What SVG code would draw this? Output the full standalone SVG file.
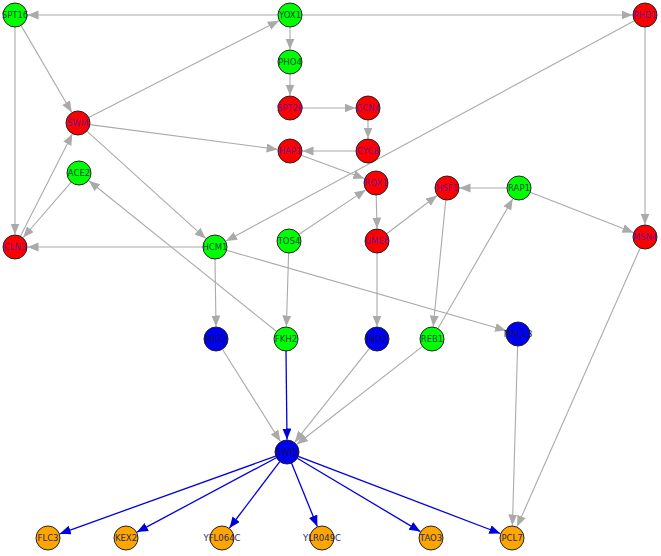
<svg xmlns="http://www.w3.org/2000/svg" width="661" height="556" viewBox="0 0 661 556">
<defs>
<marker id="ag" markerUnits="userSpaceOnUse" markerWidth="12" markerHeight="10" refX="11" refY="4.5" orient="auto"><path d="M0,0 L11,4.5 L0,9 z" fill="#aaaaaa"/></marker>
<marker id="ab" markerUnits="userSpaceOnUse" markerWidth="12" markerHeight="10" refX="11" refY="4.5" orient="auto"><path d="M0,0 L11,4.5 L0,9 z" fill="#0000dd"/></marker>
<style>
.e{stroke:#aaaaaa;stroke-width:1.1;fill:none;marker-end:url(#ag)}
.b{stroke:#0000dd;stroke-width:1.3;fill:none;marker-end:url(#ab)}
circle{stroke:#222;stroke-width:1}
.g circle{fill:#00ff00}.r circle{fill:#ff0000}.u circle{fill:#0000f0}.o circle{fill:#ffa500}
text{font-family:"DejaVu Sans",Verdana,sans-serif;font-size:8.5px;text-anchor:middle}
.g text{fill:#0b4d3a}.r text{fill:#70108a}.u text{fill:#101060}.o text{fill:#2a2a50}
</style>
</defs>
<rect width="661" height="556" fill="#ffffff"/>
<g id="edges">
<line class="e" x1="278" y1="15" x2="27.5" y2="15"/>
<line class="e" x1="302" y1="15" x2="632.5" y2="15"/>
<line class="e" x1="290" y1="27" x2="290" y2="49.5"/>
<line class="e" x1="290" y1="74" x2="290" y2="95.5"/>
<line class="e" x1="302" y1="108" x2="355.5" y2="108"/>
<line class="e" x1="368" y1="120" x2="368" y2="138.5"/>
<line class="e" x1="356" y1="151" x2="302.5" y2="151"/>
<line class="e" x1="301.2" y1="155.2" x2="364.3" y2="178.6"/>
<line class="e" x1="89.9" y1="124.6" x2="277.6" y2="149.4"/>
<line class="e" x1="88.7" y1="117.6" x2="278.9" y2="20.7"/>
<line class="e" x1="21" y1="25.4" x2="71.7" y2="112.2"/>
<line class="e" x1="15" y1="27" x2="15" y2="234.5"/>
<line class="e" x1="20.4" y1="236.3" x2="72.3" y2="134.1"/>
<line class="e" x1="71.2" y1="182.1" x2="23.2" y2="237.5"/>
<line class="e" x1="203" y1="247" x2="27.5" y2="247"/>
<line class="e" x1="86.9" y1="131.1" x2="205.7" y2="238.6"/>
<line class="e" x1="276.6" y1="331.5" x2="88.8" y2="180.8"/>
<line class="e" x1="634.4" y1="20.7" x2="226" y2="241.1"/>
<line class="e" x1="645" y1="27" x2="645" y2="224.5"/>
<line class="e" x1="299" y1="234.3" x2="365.6" y2="189.9"/>
<line class="e" x1="376.2" y1="195" x2="377" y2="228.5"/>
<line class="e" x1="386.6" y1="233.8" x2="437" y2="195.5"/>
<line class="e" x1="507" y1="188" x2="459.5" y2="188"/>
<line class="e" x1="530.2" y1="192.3" x2="633.4" y2="232.5"/>
<line class="e" x1="438" y1="328.6" x2="512.8" y2="198.8"/>
<line class="e" x1="445.8" y1="199.9" x2="433.2" y2="326.6"/>
<line class="e" x1="215" y1="259" x2="216" y2="326.5"/>
<line class="e" x1="226.5" y1="250.3" x2="506" y2="330.5"/>
<line class="e" x1="288.6" y1="253" x2="286.4" y2="326.5"/>
<line class="e" x1="377" y1="253" x2="377" y2="326.5"/>
<line class="e" x1="222.4" y1="349.2" x2="280.4" y2="441.4"/>
<line class="b" x1="286" y1="351" x2="287" y2="439.5"/>
<line class="e" x1="369.5" y1="348.4" x2="294.8" y2="442.2"/>
<line class="e" x1="422.5" y1="346.4" x2="296.9" y2="444.3"/>
<line class="e" x1="517.6" y1="346" x2="512.4" y2="525.5"/>
<line class="e" x1="640.2" y1="248" x2="517.1" y2="526.6"/>
<line class="b" x1="275.7" y1="456.1" x2="59.8" y2="533.8"/>
<line class="b" x1="276.4" y1="457.7" x2="137" y2="532.1"/>
<line class="b" x1="279.8" y1="461.6" x2="229.5" y2="528"/>
<line class="b" x1="291.5" y1="463.1" x2="317.3" y2="526.4"/>
<line class="b" x1="297.3" y1="458.2" x2="420.3" y2="531.6"/>
<line class="b" x1="298.2" y1="456.3" x2="500.3" y2="533.5"/>
</g>
<g id="SPT16" class="g"><circle cx="15" cy="15" r="12"/><text x="15" y="18">SPT16</text></g>
<g id="YOX1" class="g"><circle cx="290" cy="15" r="12"/><text x="290" y="18">YOX1</text></g>
<g id="PHD1" class="r"><circle cx="645" cy="15" r="12"/><text x="645" y="18">PHD1</text></g>
<g id="PHO4" class="g"><circle cx="290" cy="62" r="12"/><text x="290" y="65">PHO4</text></g>
<g id="SPT20" class="r"><circle cx="290" cy="108" r="12"/><text x="290" y="111">SPT20</text></g>
<g id="GCN4" class="r"><circle cx="368" cy="108" r="12"/><text x="368" y="111">GCN4</text></g>
<g id="SWI4" class="r"><circle cx="78" cy="123" r="12"/><text x="78" y="126">SWI4</text></g>
<g id="HAP1" class="r"><circle cx="290" cy="151" r="12"/><text x="290" y="154">HAP1</text></g>
<g id="CYC8" class="r"><circle cx="368" cy="151" r="12"/><text x="368" y="154">CYC8</text></g>
<g id="ROX1" class="r"><circle cx="376" cy="183" r="12"/><text x="376" y="186">ROX1</text></g>
<g id="ACE2" class="g"><circle cx="79" cy="173" r="12"/><text x="79" y="176">ACE2</text></g>
<g id="HSF1" class="r"><circle cx="447" cy="188" r="12"/><text x="447" y="191">HSF1</text></g>
<g id="RAP1" class="g"><circle cx="519" cy="188" r="12"/><text x="519" y="191">RAP1</text></g>
<g id="CLN3" class="r"><circle cx="15" cy="247" r="12"/><text x="15" y="250">CLN3</text></g>
<g id="HCM1" class="g"><circle cx="215" cy="247" r="12"/><text x="215" y="250">HCM1</text></g>
<g id="TOS4" class="g"><circle cx="289" cy="241" r="12"/><text x="289" y="244">TOS4</text></g>
<g id="UME6" class="r"><circle cx="377" cy="241" r="12"/><text x="377" y="244">UME6</text></g>
<g id="MSN4" class="r"><circle cx="645" cy="237" r="12"/><text x="645" y="240">MSN4</text></g>
<g id="MIG2" class="u"><circle cx="216" cy="339" r="12"/><text x="216" y="342">MIG2</text></g>
<g id="FKH2" class="g"><circle cx="286" cy="339" r="12"/><text x="286" y="342">FKH2</text></g>
<g id="INO2" class="u"><circle cx="377" cy="339" r="12"/><text x="377" y="342">INO2</text></g>
<g id="REB1" class="g"><circle cx="432" cy="339" r="12"/><text x="432" y="342">REB1</text></g>
<g id="MAL13" class="u"><circle cx="518" cy="334" r="12"/><text x="518" y="337">MAL13</text></g>
<g id="SWI5" class="u"><circle cx="287" cy="452" r="12"/><text x="287" y="455">SWI5</text></g>
<g id="FLC3" class="o"><circle cx="48" cy="538" r="12"/><text x="48" y="541">FLC3</text></g>
<g id="KEX2" class="o"><circle cx="126" cy="538" r="12"/><text x="126" y="541">KEX2</text></g>
<g id="YFL064C" class="o"><circle cx="222" cy="538" r="12"/><text x="222" y="541">YFL064C</text></g>
<g id="YLR049C" class="o"><circle cx="322" cy="538" r="12"/><text x="322" y="541">YLR049C</text></g>
<g id="TAO3" class="o"><circle cx="431" cy="538" r="12"/><text x="431" y="541">TAO3</text></g>
<g id="PCL7" class="o"><circle cx="512" cy="538" r="12"/><text x="512" y="541">PCL7</text></g>
</svg>
